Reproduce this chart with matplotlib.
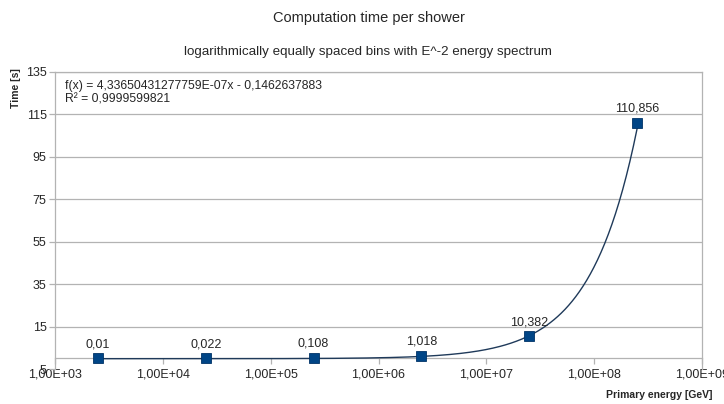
import numpy as np
import matplotlib.pyplot as plt

# data
energy = [2.5e3, 2.5e4, 2.5e5, 2.5e6, 2.5e7, 2.5e8]
time_s = [0.01, 0.022, 0.108, 1.018, 10.382, 110.856]
labels = ["0,01", "0,022", "0,108", "1,018", "10,382", "110,856"]

# linear trend line shown on the chart
slope = 4.33650431277759e-07
intercept = -0.1462637883

yticks = [-5, 15, 35, 55, 75, 95, 115, 135]
ytick_labels = ["5", "15", "35", "55", "75", "95", "115", "135"]
xticks = [1e3, 1e4, 1e5, 1e6, 1e7, 1e8, 1e9]
xtick_labels = ["1,00E+03", "1,00E+04", "1,00E+05", "1,00E+06", "1,00E+07", "1,00E+08", "1,00E+09"]

plt.rcParams['font.family'] = ['Liberation Sans', 'DejaVu Sans']
txt = "#262626"
grid = "#b3b3b3"
blue = "#004586"

fig = plt.figure(figsize=(7.24, 4.04), dpi=100)
ax = fig.add_axes([55/724, 1-369/404, (702-55)/724, (369-72)/404])

ax.set_xscale("log")
ax.set_xlim(1e3, 1e9)
ax.set_ylim(-5, 135)

# trend line
xs = np.geomspace(energy[0], energy[-1], 300)
ax.plot(xs, slope*xs + intercept, color="#1f3a5a", lw=1.0, zorder=3)

ax.plot(energy, time_s, ls="none", marker="s", ms=7.5, color=blue,
        markeredgecolor="#003366", markeredgewidth=0.6, zorder=4)
for x, y, lab in zip(energy, time_s, labels):
    ax.annotate(lab, (x, y), xytext=(0, 6), textcoords="offset points",
                ha="center", va="bottom", fontsize=9, color=txt)

ax.set_yticks(yticks)
ax.set_yticklabels(ytick_labels)
ax.set_xticks(xticks)
ax.set_xticklabels(xtick_labels)
ax.xaxis.set_minor_locator(plt.NullLocator())

for y in yticks[1:]:
    ax.axhline(y, color=grid, lw=0.9, zorder=1)

ax.spines['bottom'].set_position(('data', 0))
for s in ['bottom', 'left', 'right', 'top']:
    ax.spines[s].set_color(grid)
    ax.spines[s].set_linewidth(0.9)
ax.tick_params(axis='both', colors=grid, labelcolor=txt, labelsize=9,
               direction='out', length=4, width=0.9, pad=2)
ax.tick_params(axis='x', pad=3)

fig.text(0.51, 1-18/404, "Computation time per shower", ha="center", va="center",
         fontsize=10.5, color=txt)
fig.text(0.508, 1-52/404, "logarithmically equally spaced bins with E^-2 energy spectrum",
         ha="center", va="center", fontsize=9.6, color=txt)

fig.text(16/724, 1-88/404, "Time [s]", rotation=90, ha="center", va="center",
         fontsize=7.5, fontweight="bold", color=txt)
fig.text(712/724, 1-395/404, "Primary energy [GeV]", ha="right", va="center",
         fontsize=7.5, fontweight="bold", color=txt)

ax.text(0.015, 0.972, "f(x) = 4,33650431277759E-07x - 0,1462637883\nR\u00b2 = 0,9999599821",
        transform=ax.transAxes, ha="left", va="top", fontsize=8.7, color=txt,
        linespacing=1.1)

fig.savefig("out.png", dpi=100, facecolor="white")
